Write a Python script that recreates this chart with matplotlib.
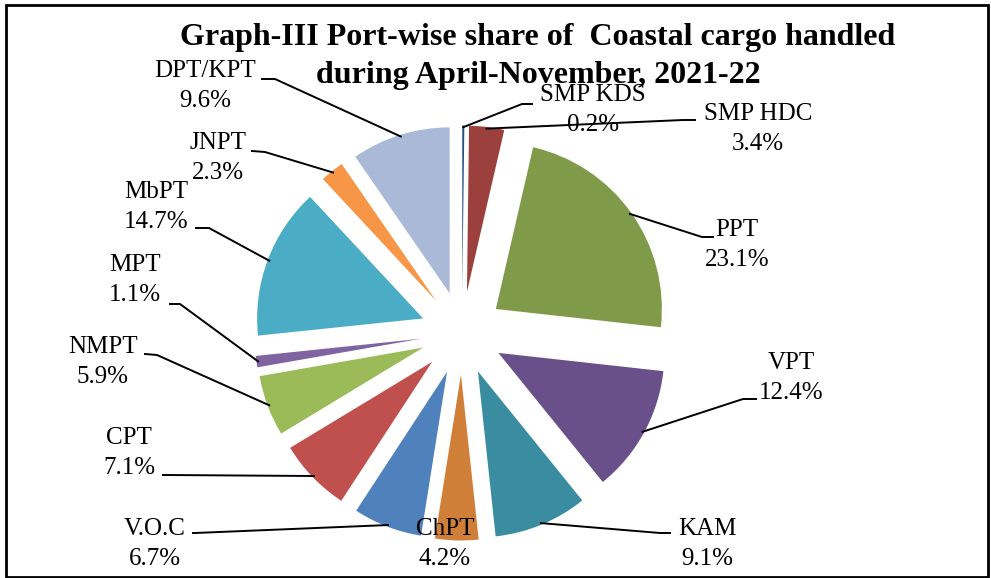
import numpy as np
import matplotlib
matplotlib.use("Agg")
import matplotlib.pyplot as plt
from matplotlib.patches import Rectangle

plt.rcParams["font.family"] = ["Liberation Serif", "DejaVu Serif"]

# port-wise share of coastal cargo, Apr-Nov 2021-22 (%)
ports = ["SMP KDS", "SMP HDC", "PPT", "VPT", "KAM", "ChPT", "V.O.C",
         "CPT", "NMPT", "MPT", "MbPT", "JNPT", "DPT/KPT"]
shares = [0.2, 3.4, 23.1, 12.4, 9.1, 4.2, 6.7, 7.1, 5.9, 1.1, 14.7, 2.3, 9.6]
colors = ["#244F80", "#9C403E", "#7F9A48", "#69508A", "#3A8DA1", "#D07F38",
          "#4F81BD", "#C0504D", "#9BBB59", "#8064A2", "#4BACC6", "#F79646",
          "#A9B9D7"]
title_lines = ["Graph-III Port-wise share of  Coastal cargo handled",
               "during April-November, 2021-22"]

# layout in pixels of the 991x578 picture
cx, cy, rad = 462, 333, 166
label_pos = [(593, 110), (758, 129), (737, 245), (791, 378), (707, 544),
             (445, 544), (155, 544), (129, 453), (103, 362), (135, 280),
             (156, 207), (218, 158), (205, 86)]
# leader line: elbow point and tail point (None = no leader)
leaders = [[(522, 104), (532, 104)], [(683, 120), (695, 120)],
           [(702, 237), (713, 237)], [(743, 399), (756, 399)],
           [(660, 533), (670, 533)], None,
           [(195, 533), (193, 533)], [(165, 475), (163, 475)],
           [(157, 355), (145, 354)], [(180, 304), (170, 304)],
           [(209, 228), (196, 228)], [(265, 152), (252, 151)],
           [(275, 79), (262, 79)]]


def px(p):
    return ((p[0] - cx) / rad, (cy - p[1]) / rad)


fig = plt.figure(figsize=(9.91, 5.78), dpi=100)
ax = fig.add_axes([0, 0, 1, 1])

wedges, _ = ax.pie(shares, explode=[0.25] * len(shares), colors=colors,
                   startangle=90, counterclock=False, radius=1,
                   wedgeprops=dict(linewidth=0))

ax.set_xlim(-cx / rad, (991 - cx) / rad)
ax.set_ylim(-(578 - cy) / rad, cy / rad)
ax.set_aspect("auto")
ax.axis("off")

for w, name, val, lp, ld in zip(wedges, ports, shares, label_pos, leaders):
    ax.text(*px(lp), f"{name}\n{val:.1f}%", ha="center", va="center",
            fontsize=18, linespacing=1.42, zorder=3)
    if ld is None:
        continue
    mid = np.deg2rad((w.theta1 + w.theta2) / 2)
    ax_x = w.center[0] + 0.99 * w.r * np.cos(mid)
    ax_y = w.center[1] + 0.99 * w.r * np.sin(mid)
    ex, ey = px(ld[0])
    tx, ty = px(ld[1])
    ax.plot([ax_x, ex, tx], [ax_y, ey, ty], color="black", lw=1.4, zorder=4)

for line, ypix in zip(title_lines, [38, 75]):
    fig.text(538 / 991, 1 - ypix / 578, line, ha="center", va="center",
             fontsize=23, fontweight="bold")

fig.patches.append(Rectangle((6 / 991, 1 / 578), 982 / 991, 572 / 578,
                             transform=fig.transFigure, fill=False,
                             edgecolor="black", lw=2))

fig.savefig("out.png", dpi=100)
